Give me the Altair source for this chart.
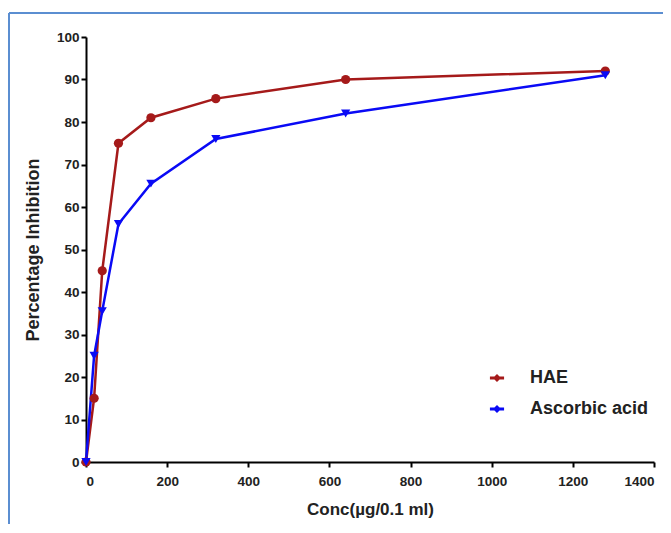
import altair as alt
import pandas as pd

conc = [0, 20, 40, 80, 160, 320, 640, 1280]
hae = [0, 15, 45, 75, 81, 85.5, 90, 92]
ascorbic = [0, 25, 35.5, 56, 65.5, 76, 82, 91]
series = ["HAE", "Ascorbic acid"]
colors = ["#A51A1A", "#0A0AF5"]
shapes = ["circle", "triangle-down"]

rows = []
for c, h, a in zip(conc, hae, ascorbic):
    rows.append({"conc": c, "val": h, "series": series[0]})
    rows.append({"conc": c, "val": a, "series": series[1]})
df = pd.DataFrame(rows)

x_enc = alt.X("conc:Q", title="Conc(µg/0.1 ml)",
              scale=alt.Scale(domain=[0, 1400], nice=False),
              axis=alt.Axis(values=list(range(0, 1401, 200)), grid=False, format="d",
                            labelFontSize=13.5, labelFontWeight="bold",
                            titleFontSize=17, titleFontWeight="bold",
                            titlePadding=14, labelPadding=7))
y_enc = alt.Y("val:Q", title="Percentage Inhibition",
              scale=alt.Scale(domain=[0, 100], nice=False),
              axis=alt.Axis(values=list(range(0, 101, 10)), grid=False,
                            labelFontSize=13.5, labelFontWeight="bold",
                            titleFontSize=18, titleFontWeight="bold",
                            titlePadding=14, labelPadding=2))
color_enc = alt.Color("series:N", sort=series,
                      scale=alt.Scale(domain=series, range=colors),
                      legend=alt.Legend(title=None, orient="none",
                                        legendX=402, legendY=332,
                                        symbolType="M-1,0H1M0,-0.3L0.3,0L0,0.3L-0.3,0Z",
                                        symbolSize=200, symbolStrokeWidth=2.8,
                                        labelFontSize=18, labelFontWeight="bold",
                                        labelOffset=24, rowPadding=13,
                                        labelColor="#222222"))

lines = alt.Chart(df).mark_line(strokeWidth=2.5).encode(
    x=x_enc, y=y_enc, color=color_enc, detail="series:N")

points = alt.Chart(df).mark_point(filled=True, size=85, opacity=1).encode(
    x="conc:Q", y="val:Q",
    fill=alt.Fill("series:N", scale=alt.Scale(domain=series, range=colors), legend=None),
    shape=alt.Shape("series:N", scale=alt.Scale(domain=series, range=shapes), legend=None))

border_top = alt.Chart(df).mark_rule(color="#5B8ED0", strokeWidth=1.5).encode(
    x=alt.value(-77), x2=alt.value(600), y=alt.value(-24))
border_left = alt.Chart(df).mark_rule(color="#5B8ED0", strokeWidth=1.5).encode(
    x=alt.value(-77), y=alt.value(-24), y2=alt.value(500))

chart = alt.layer(border_top, border_left, lines, points).resolve_legend(
    color="independent", fill="independent", shape="independent"
).properties(
    width=568, height=425,
    padding={"left": 78, "top": 29, "right": 9, "bottom": 62},
    autosize=alt.AutoSizeParams(type="none"),
).configure_view(stroke=None).configure_axis(
    domainColor="black", domainWidth=2, tickColor="black", tickWidth=2,
    tickSize=5, labelColor="#222222", titleColor="#222222",
    labelFont="Liberation Sans", titleFont="Liberation Sans"
).configure_legend(labelFont="Liberation Sans")

chart.save("out.html", embed_options={"renderer": "svg", "actions": False})
